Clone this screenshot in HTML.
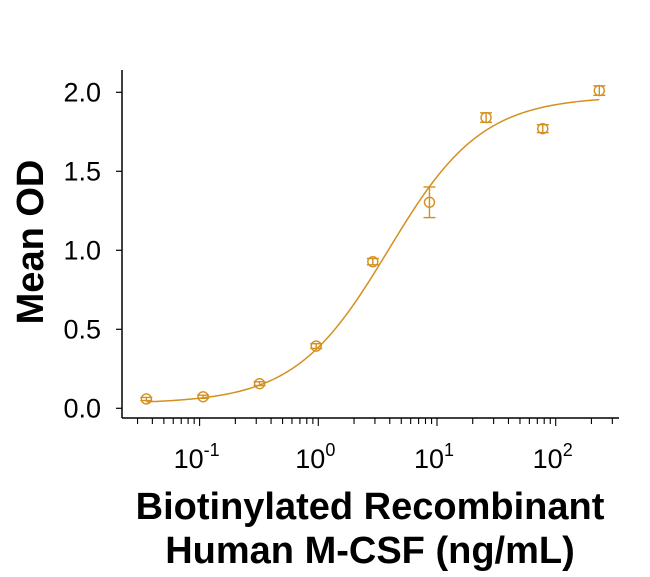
<!DOCTYPE html>
<html><head><meta charset="utf-8"><style>
html,body{margin:0;padding:0;background:#fff;}
svg{display:block;font-family:"Liberation Sans",Arial,sans-serif;}
</style></head><body>
<svg id="chart" width="650" height="577" viewBox="0 0 650 577" xmlns="http://www.w3.org/2000/svg">
<g id="axes"></g>
<g id="marks"></g>
<text transform="translate(43,242) rotate(-90)" text-anchor="middle" font-size="38" font-weight="bold" fill="#000">Mean OD</text>
<text x="370" y="519" text-anchor="middle" font-size="38" font-weight="bold" fill="#000">Biotinylated Recombinant</text>
<text x="370" y="563" text-anchor="middle" font-size="38" font-weight="bold" fill="#000">Human M-CSF (ng/mL)</text>
</svg>
<script>
const concentrations=[0.0356,0.107,0.32,0.96,2.88,8.64,25.9,77.8,233];
const meanOD=[0.059,0.073,0.156,0.394,0.928,1.304,1.84,1.77,2.011];
const errorOD=[0.01,0.01,0.012,0.015,0.02,0.097,0.03,0.025,0.03];
const yTicks=[0,0.5,1.0,1.5,2.0];
const yTickLabels=["0.0","0.5","1.0","1.5","2.0"];
const xDecades=[-1,0,1,2];
const fitParams={bottom:0.03,top:1.975,ec50:3.9,hill:1.1};

const NS="http://www.w3.org/2000/svg";
const C="#d4901e";
function X(v){return 318.3+118.7*Math.log10(v);}
function Y(v){return 408.3-158*v;}
function mk(t,a,p){const e=document.createElementNS(NS,t);for(const k in a)e.setAttribute(k,a[k]);p.appendChild(e);return e;}
const ax=document.getElementById('axes'),mg=document.getElementById('marks');
let e=mk('line',{x1:122,y1:70,x2:122,y2:418,stroke:'#000','stroke-width':1.5},ax);

e=mk('line',{x1:122,y1:418,x2:619,y2:418,stroke:'#000','stroke-width':1.5},ax);

yTicks.forEach((v,i)=>{
  let t=mk('line',{x1:116,y1:Y(v),x2:122,y2:Y(v),stroke:'#000','stroke-width':1.2},ax);
  
  let l=mk('text',{x:101,y:Y(v)+9,'text-anchor':'end','font-size':27,fill:'#000'},ax);
  l.textContent=yTickLabels[i];
  
});
for(let d=-2;d<=2;d++){for(let m=1;m<=9;m++){const v=m*Math.pow(10,d);if(v<0.03||v>300)continue;
  const major=m===1;
  let t=mk('line',{x1:X(v),y1:418,x2:X(v),y2:major?426:424,stroke:'#000','stroke-width':1.1},ax);
  
}}
xDecades.forEach(d=>{
  let l=mk('text',{x:X(Math.pow(10,d))-3,y:468,'text-anchor':'middle','font-size':27,fill:'#000'},ax);
  
  l.appendChild(document.createTextNode('10'));
  const s=mk('tspan',{dy:-12,'font-size':18},l);s.textContent=String(d);
});
let pts=[];const lo=Math.log10(concentrations[0]),hi=Math.log10(concentrations[concentrations.length-1]);
for(let i=0;i<=200;i++){const v=Math.pow(10,lo+(hi-lo)*i/200);const r=Math.pow(v/fitParams.ec50,fitParams.hill);
  const y=fitParams.bottom+(fitParams.top-fitParams.bottom)*r/(1+r);pts.push(X(v).toFixed(2)+','+Y(y).toFixed(2));}
e=mk('polyline',{points:pts.join(' '),fill:'none',stroke:C,'stroke-width':1.5},mg);

concentrations.forEach((c,i)=>{
  const x=X(c),y=Y(meanOD[i]),y1=Y(meanOD[i]+errorOD[i]),y2=Y(meanOD[i]-errorOD[i]);
  let g=mk('g',{},mg);
  
  mk('line',{x1:x,y1:y1,x2:x,y2:y2,stroke:C,'stroke-width':1.4},g);
  mk('line',{x1:x-6,y1:y1,x2:x+6,y2:y1,stroke:C,'stroke-width':1.4},g);
  mk('line',{x1:x-6,y1:y2,x2:x+6,y2:y2,stroke:C,'stroke-width':1.4},g);
  mk('circle',{cx:x,cy:y,r:5,fill:'none',stroke:C,'stroke-width':1.4},g);
});
</script>
</body></html>
